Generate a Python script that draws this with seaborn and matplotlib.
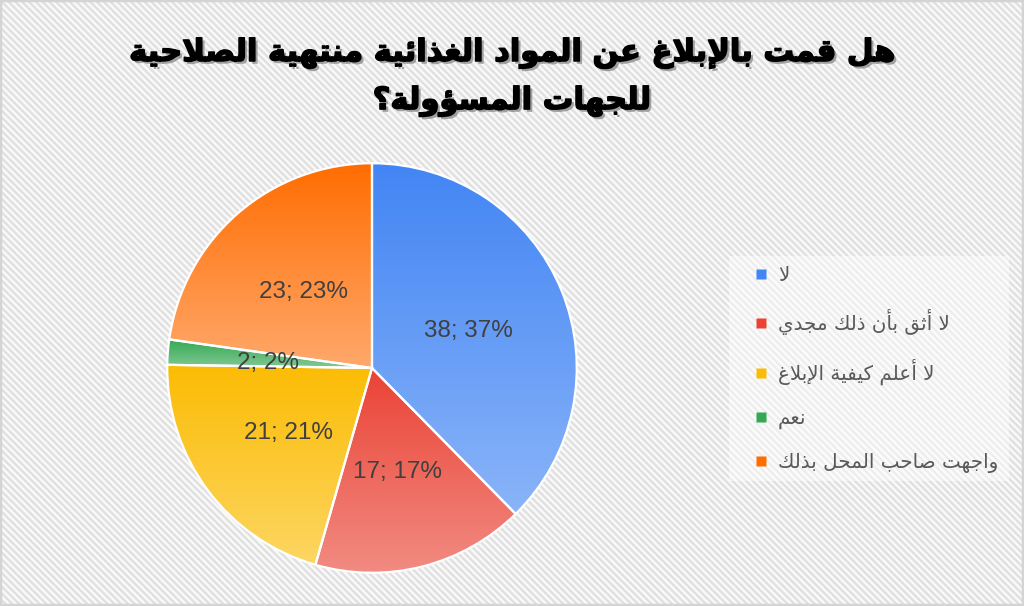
import matplotlib
matplotlib.use("Agg")
import matplotlib.pyplot as plt
import matplotlib.patheffects as pe
from matplotlib.colors import to_rgb
from matplotlib.lines import Line2D
import seaborn as sns
import numpy as np

# data
title_lines = ["هل قمت بالإبلاغ عن المواد الغذائية منتهية الصلاحية",
               "للجهات المسؤولة؟"]
categories = ["لا", "لا أثق بأن ذلك مجدي", "لا أعلم كيفية الإبلاغ", "نعم",
              "واجهت صاحب المحل بذلك"]
counts = [38, 17, 21, 2, 23]
percents = [37, 17, 21, 2, 23]

# top / bottom colours of each slice gradient
top_colors = ["#4285F4", "#EA4335", "#FBBC04", "#34A853", "#FF6D01"]
bottom_colors = ["#8AB4F8", "#F28B82", "#FDD663", "#81C995", "#FFA86B"]

# --- minimal arabic shaping (matplotlib has no bidi / joining) ---
FORMS = {  # isolated, final, initial, medial
    "ا": ("\uFE8D", "\uFE8E", None, None),
    "أ": ("\uFE83", "\uFE84", None, None),
    "إ": ("\uFE87", "\uFE88", None, None),
    "آ": ("\uFE81", "\uFE82", None, None),
    "ب": ("\uFE8F", "\uFE90", "\uFE91", "\uFE92"),
    "ة": ("\uFE93", "\uFE94", None, None),
    "ت": ("\uFE95", "\uFE96", "\uFE97", "\uFE98"),
    "ث": ("\uFE99", "\uFE9A", "\uFE9B", "\uFE9C"),
    "ج": ("\uFE9D", "\uFE9E", "\uFE9F", "\uFEA0"),
    "ح": ("\uFEA1", "\uFEA2", "\uFEA3", "\uFEA4"),
    "خ": ("\uFEA5", "\uFEA6", "\uFEA7", "\uFEA8"),
    "د": ("\uFEA9", "\uFEAA", None, None),
    "ذ": ("\uFEAB", "\uFEAC", None, None),
    "ر": ("\uFEAD", "\uFEAE", None, None),
    "ز": ("\uFEAF", "\uFEB0", None, None),
    "س": ("\uFEB1", "\uFEB2", "\uFEB3", "\uFEB4"),
    "ش": ("\uFEB5", "\uFEB6", "\uFEB7", "\uFEB8"),
    "ص": ("\uFEB9", "\uFEBA", "\uFEBB", "\uFEBC"),
    "ض": ("\uFEBD", "\uFEBE", "\uFEBF", "\uFEC0"),
    "ط": ("\uFEC1", "\uFEC2", "\uFEC3", "\uFEC4"),
    "ظ": ("\uFEC5", "\uFEC6", "\uFEC7", "\uFEC8"),
    "ع": ("\uFEC9", "\uFECA", "\uFECB", "\uFECC"),
    "غ": ("\uFECD", "\uFECE", "\uFECF", "\uFED0"),
    "ف": ("\uFED1", "\uFED2", "\uFED3", "\uFED4"),
    "ق": ("\uFED5", "\uFED6", "\uFED7", "\uFED8"),
    "ك": ("\uFED9", "\uFEDA", "\uFEDB", "\uFEDC"),
    "ل": ("\uFEDD", "\uFEDE", "\uFEDF", "\uFEE0"),
    "م": ("\uFEE1", "\uFEE2", "\uFEE3", "\uFEE4"),
    "ن": ("\uFEE5", "\uFEE6", "\uFEE7", "\uFEE8"),
    "ه": ("\uFEE9", "\uFEEA", "\uFEEB", "\uFEEC"),
    "و": ("\uFEED", "\uFEEE", None, None),
    "ؤ": ("\uFE85", "\uFE86", None, None),
    "ي": ("\uFEF1", "\uFEF2", "\uFEF3", "\uFEF4"),
    "ئ": ("\uFE89", "\uFE8A", "\uFE8B", "\uFE8C"),
}
LAM_ALEF = {"ا": ("\uFEFB", "\uFEFC"), "أ": ("\uFEF7", "\uFEF8"),
            "إ": ("\uFEF9", "\uFEFA"), "آ": ("\uFEF5", "\uFEF6")}


def shape(text):
    out = []
    i, n = 0, len(text)
    while i < n:
        c = text[i]
        if c not in FORMS:
            out.append(c)
            i += 1
            continue
        prev = text[i - 1] if i > 0 else ""
        prev_joins = prev in FORMS and FORMS[prev][2] is not None
        if c == "ل" and i + 1 < n and text[i + 1] in LAM_ALEF:
            iso, fin = LAM_ALEF[text[i + 1]]
            out.append(fin if prev_joins else iso)
            i += 2
            continue
        nxt = text[i + 1] if i + 1 < n else ""
        next_joins = nxt in FORMS and FORMS[c][2] is not None
        iso, fin, ini, med = FORMS[c]
        if prev_joins and next_joins:
            out.append(med)
        elif prev_joins:
            out.append(fin)
        elif next_joins:
            out.append(ini)
        else:
            out.append(iso)
        i += 1
    return "".join(reversed(out))


sns.set_theme(style="white")
plt.rcParams["font.family"] = ["DejaVu Sans"]

fig = plt.figure(figsize=(10.24, 6.06), dpi=100)

# hatched background
bg = fig.add_axes([0, 0, 1, 1])
rows, cols = np.mgrid[0:606, 0:1024]
wave = 0.5 + 0.5 * np.cos(2 * np.pi * (cols - rows) / 6.8)
light, dark = np.array(to_rgb("#fcfcfc")), np.array(to_rgb("#dedede"))
bg.imshow(light + (dark - light) * wave[..., None], aspect="auto",
          interpolation="bilinear")
bg.add_patch(plt.Rectangle((-0.5, -0.5), 1023, 605, fill=False,
                           edgecolor="#d4d4d4", lw=2.5))
# translucent box behind the legend
bg.add_patch(plt.Rectangle((728, 255), 280, 225, facecolor="white",
                           edgecolor="none", alpha=0.45))
bg.set_xlim(-0.5, 1023.5)
bg.set_ylim(605.5, -0.5)
bg.axis("off")

# pie
ax = fig.add_axes([(372 - 215) / 1024, (238 - 215) / 606, 430 / 1024, 430 / 606])
wedges, _ = ax.pie(counts, startangle=90, counterclock=False, radius=1,
                   wedgeprops=dict(edgecolor="white", linewidth=1.6))
for w, c0, c1 in zip(wedges, top_colors, bottom_colors):
    ext = w.get_path().get_extents()
    t = np.linspace(0, 1, 256)[:, None]
    grad = np.array(to_rgb(c1)) * (1 - t) + np.array(to_rgb(c0)) * t
    im = ax.imshow(grad[:, None, :], extent=[ext.x0, ext.x1, ext.y0, ext.y1],
                   origin="lower", aspect="auto", zorder=1,
                   interpolation="bilinear")
    im.set_clip_path(w)
    w.set_facecolor("none")
    w.set_zorder(2)

for w, n_, p in zip(wedges, counts, percents):
    mid = np.deg2rad((w.theta1 + w.theta2) / 2)
    ax.text(0.51 * np.cos(mid), 0.51 * np.sin(mid) - 0.015, f"{n_}; {p}%",
            ha="center", va="center", fontsize=17.5, color="#404040",
            family=["Liberation Sans", "DejaVu Sans"], zorder=3)
ax.set_xlim(-1.05, 1.05)
ax.set_ylim(-1.05, 1.05)
ax.set_aspect("equal")
ax.axis("off")

# title with shadow
title_fx = [pe.withSimplePatchShadow(offset=(2, -2), shadow_rgbFace="#7f7f7f",
                                     alpha=0.7),
            pe.Stroke(linewidth=1.1, foreground="black"), pe.Normal()]
for k, line in enumerate(title_lines):
    fig.text(0.5, 1 - (53 + 48 * k) / 606, shape(line), ha="center",
             va="center", fontsize=22, fontweight="bold", color="black",
             path_effects=title_fx)

# legend
handles = [Line2D([], [], marker="s", linestyle="none", markersize=7,
                  markerfacecolor=c, markeredgecolor="none")
           for c in top_colors]
leg = fig.legend(handles, [shape(c) for c in categories], loc="upper left",
                 bbox_to_anchor=(753 / 1024, 1 - 266 / 606), frameon=False,
                 fontsize=14.3, labelcolor="#595959", labelspacing=1.2,
                 handlelength=0.8, handletextpad=0.45, borderpad=0,
                 borderaxespad=0)

fig.savefig("out.png", dpi=100)
